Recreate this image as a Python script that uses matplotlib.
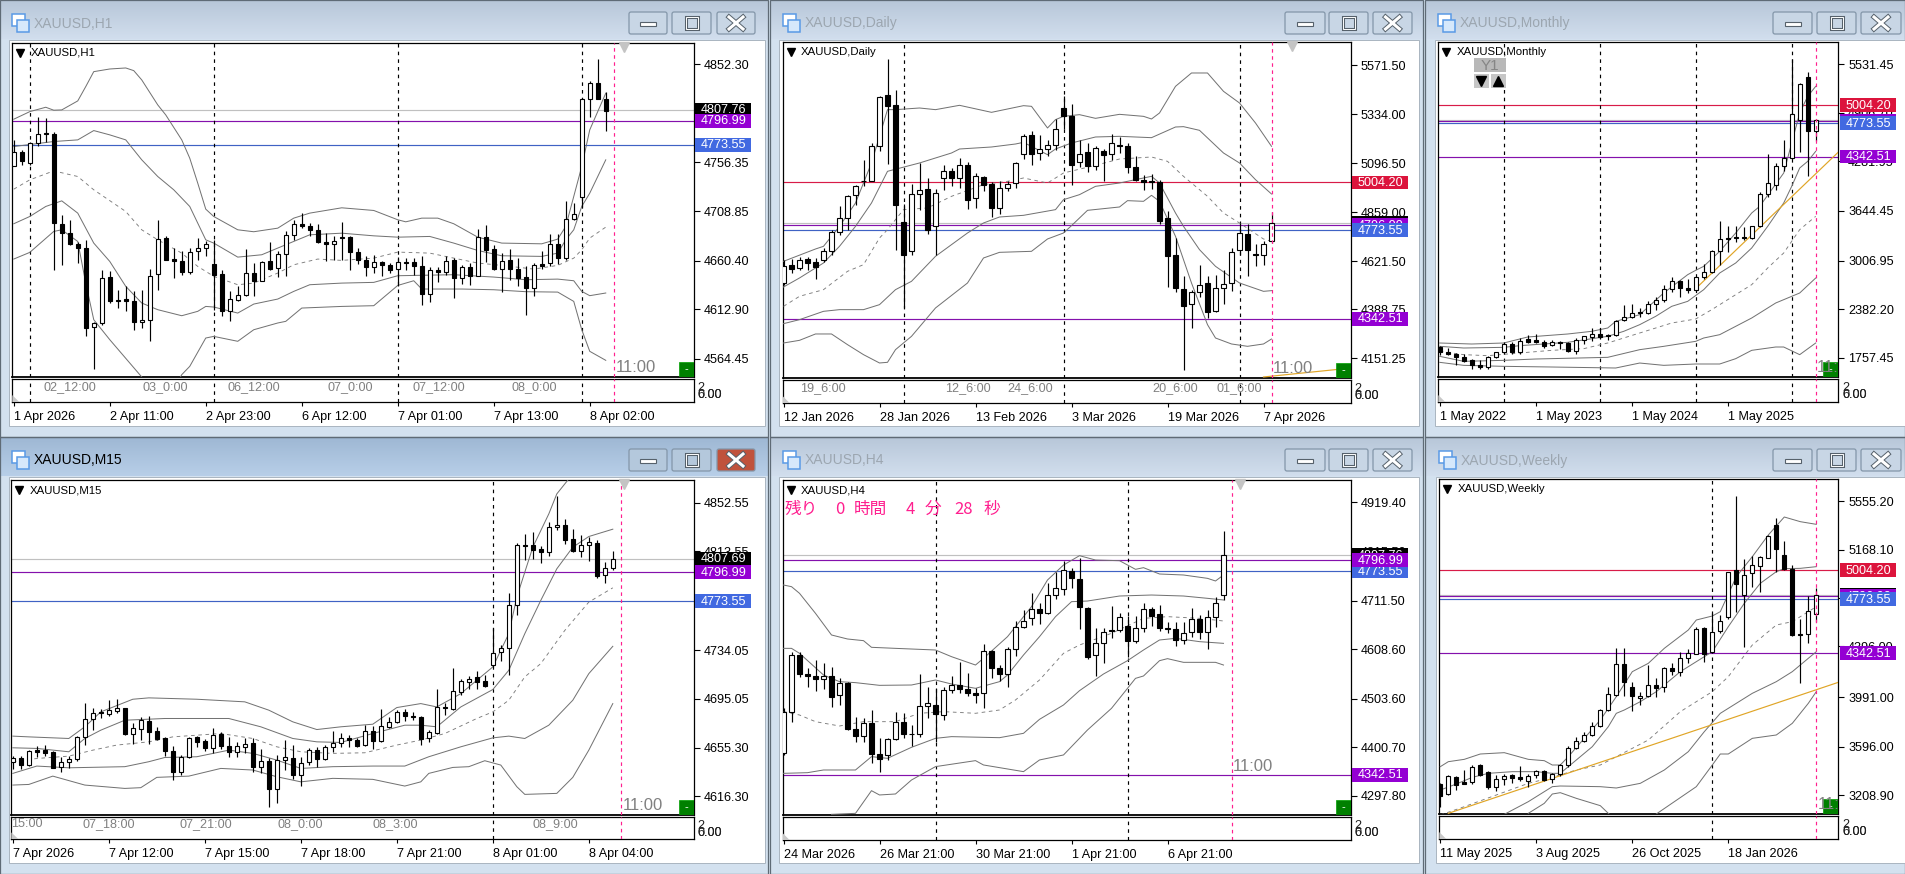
import numpy as np
import matplotlib
matplotlib.use("Agg")
import matplotlib.pyplot as plt
from matplotlib.patches import Rectangle, FancyBboxPatch, Polygon

plt.rcParams['font.family'] = ['Liberation Sans', 'DejaVu Sans']

W, H = 1905, 874

# levels shared by every chart
PRICE_NOW = 4807.76
LEVEL_RED = 5004.20
LEVEL_PURPLE = 4796.99
LEVEL_BLUE = 4773.55
LEVEL_LOW = 4342.51

# ---------- H1 : open, high, low, close ----------
h1_bars = [
 [4752.4,4778.4,4752.4,4766.3],[4766.3,4768.6,4754.0,4758.2],[4755.6,4776.8,4754.0,4775.8],[4775.8,4801.2,4772.5,4783.9],
 [4784.9,4799.5,4776.8,4783.9],[4783.9,4786.5,4650.8,4697.0],[4696.0,4705.1,4655.7,4687.2],[4687.2,4700.3,4675.9,4676.5],
 [4676.5,4678.1,4657.9,4672.3],[4672.6,4680.7,4586.3,4594.5],[4595.1,4600.0,4554.4,4599.4],[4599.4,4651.4,4597.7,4643.3],
 [4644.3,4649.8,4618.9,4620.5],[4621.8,4631.9,4614.0,4620.5],[4622.8,4635.8,4610.8,4620.5],[4621.2,4630.3,4592.8,4600.0],
 [4600.0,4631.3,4594.5,4602.3],[4602.3,4652.1,4581.5,4645.6],[4647.2,4699.6,4631.9,4681.4],[4682.4,4684.6,4660.6,4661.2],
 [4661.9,4672.6,4643.3,4659.6],[4660.2,4669.3,4646.6,4648.8],[4648.8,4672.6,4647.5,4668.7],[4669.3,4682.4,4661.2,4672.6],
 [4672.6,4679.1,4664.5,4676.5],[4657.0,4680.7,4612.4,4646.2],[4647.5,4651.4,4605.9,4610.8],[4610.8,4630.3,4601.0,4622.8],
 [4622.1,4635.2,4620.5,4626.7],[4626.7,4672.0,4625.4,4648.2],[4648.2,4658.0,4625.4,4640.0],[4640.7,4659.6,4640.0,4658.9],
 [4659.6,4678.5,4651.4,4652.4],[4653.0,4669.3,4644.3,4666.7],[4666.7,4688.9,4645.0,4685.3],[4685.3,4700.3,4680.7,4696.0],
 [4696.0,4706.8,4692.1,4693.8],[4694.4,4697.0,4684.6,4689.9],[4690.2,4696.4,4677.5,4678.1],[4678.5,4687.2,4659.6,4676.2],
 [4676.2,4684.6,4661.2,4680.0],[4683.3,4698.3,4661.2,4682.0],[4683.7,4684.6,4651.4,4668.4],[4668.7,4672.6,4657.3,4660.6],
 [4661.2,4664.5,4645.6,4653.7],[4654.0,4666.1,4648.2,4658.9],[4658.9,4659.6,4645.6,4655.7],[4656.3,4658.0,4648.2,4650.8],
 [4652.1,4663.8,4635.2,4658.6],[4658.9,4662.8,4651.4,4658.3],[4658.9,4662.8,4646.6,4654.7],[4654.7,4664.5,4616.6,4627.4],
 [4627.4,4654.0,4619.5,4650.8],[4651.1,4653.7,4639.7,4649.5],[4649.5,4664.5,4646.6,4659.9],[4661.2,4662.5,4623.5,4643.0],
 [4643.0,4656.3,4637.8,4654.0],[4654.0,4658.0,4636.8,4645.6],[4645.6,4691.1,4645.0,4683.3],[4683.7,4695.4,4658.9,4671.0],
 [4671.6,4675.9,4650.8,4652.1],[4652.1,4667.7,4629.3,4659.6],[4660.9,4671.6,4641.7,4652.1],[4652.1,4662.8,4635.2,4643.6],
 [4644.3,4654.7,4607.5,4633.2],[4633.2,4658.0,4625.4,4655.7],[4657.0,4669.3,4652.1,4655.4],[4657.6,4686.3,4654.7,4676.5],
 [4676.5,4686.3,4657.3,4662.5],[4662.5,4718.8,4660.6,4700.9],[4700.9,4716.5,4700.3,4705.5],[4722.4,4819.1,4712.6,4818.1],
 [4818.1,4836.0,4800.5,4833.7],[4833.7,4857.5,4818.1,4818.1],[4818.1,4824.9,4787.5,4807.0]]
h1_up2 = [(0,4798.6),(2,4806),(4,4810.3),(5,4807.4),(6,4807.7),(8,4816.5),(9,4830.5),(10,4845.1),(12,4847.7),(14,4848.7),(15,4846.1),(16,4837),(18,4812.6),(19,4802.8),(21,4778.4),(22,4760.5),(23,4736.1),(24,4710.7),(25,4703.5),(28,4690.5),(30,4688.6),(33,4692.1),(35,4701.9),(37,4706.8),(41,4712),(45,4709.4),(48,4700.3),(49,4698.3),(51,4701.9),(53,4701.9),(55,4696.4),(58,4683.3),(61,4677.5),(66,4676.8),(68,4681.4),(69,4693.8),(71,4752.4),(72,4788.2),(74,4824)]
h1_up1 = [(0,4771.9),(5,4776.8),(8,4778.4),(10,4787.5),(12,4783.3),(14,4778.4),(16,4758.9),(18,4742.6),(20,4729.6),(22,4713.3),(24,4680.7),(25,4677.5),(28,4663.8),(31,4666.1),(34,4675.9),(37,4685.6),(41,4687.2),(45,4684.6),(48,4683.3),(52,4684),(55,4677.5),(58,4670.3),(61,4665.1),(66,4664.5),(68,4667.7),(69,4680.7),(70,4690.5),(71,4713.3),(72,4726.3),(74,4758.9)]
h1_mid = [(0,4730.2),(2,4739.3),(5,4748.1),(8,4742.6),(10,4729.6),(14,4708.4),(16,4690.5),(18,4680.7),(21,4667.7),(23,4654.7),(25,4645),(28,4636.8),(30,4638.4),(33,4648.2),(35,4656.3),(38,4661.9),(41,4660.6),(45,4662.8),(48,4668.7),(52,4667.7),(56,4661.2),(58,4658),(61,4655.7),(65,4652.1),(68,4655.7),(70,4662.8),(71,4671),(72,4682.4),(74,4693.1)]
h1_low1 = [(0,4696.4),(2,4703.5),(4,4713.3),(6,4718.8),(8,4706.8),(10,4677.5),(12,4659.6),(14,4635.2),(16,4618.9),(18,4612.4),(21,4606.5),(23,4610.8),(24,4615.6),(25,4615),(28,4609.1),(30,4617.9),(33,4622.8),(35,4630.3),(37,4636.8),(41,4638.4),(45,4639.1),(48,4645.6),(55,4646.6),(60,4644.3),(64,4641.7),(68,4642.3),(70,4640.7),(71,4630.3),(72,4626.1),(74,4628.7)]
h1_low2 = [(0,4661.9),(2,4668.4),(5,4688.9),(6,4690.5),(8,4679.1),(9,4638.4),(10,4602.6),(12,4583.1),(16,4546.6),(18,4530),(20,4535),(21,4548.9),(22,4557),(24,4584.7),(25,4586.3),(28,4581.5),(30,4592.8),(33,4599.4),(34,4601),(36,4614),(41,4615.6),(45,4616.3),(48,4636.1),(50,4640.7),(51,4632.6),(56,4632.6),(60,4631.9),(64,4630),(68,4629.6),(70,4620.5),(71,4592.8),(72,4571.7),(74,4562.9)]
h1_ticks = [4852.30,4804.80,4756.35,4708.85,4660.40,4612.90,4564.45]
h1_dates = ["1 Apr 2026","2 Apr 11:00","2 Apr 23:00","6 Apr 12:00","7 Apr 01:00","7 Apr 13:00","8 Apr 02:00"]
h1_sub = [(3.7,"02_12:00"),(16.1,"03_0:00"),(26.7,"06_12:00"),(39.2,"07_0:00"),(49.8,"07_12:00"),(62.2,"08_0:00")]

# ---------- Daily ----------
d1_bars = [
 [4516.5,4629.6,4508.5,4597.3],[4605.4,4632.9,4565.0,4584.4],[4587.6,4642.6,4581.2,4626.4],[4632.9,4642.6,4577.9,4613.5],
 [4618.3,4637.7,4535.9,4592.5],[4626.4,4686.2,4618.3,4670.0],[4670.0,4775.0,4653.9,4763.7],[4763.7,4891.4,4750.8,4831.6],
 [4831.6,4944.7,4771.8,4938.2],[4941.4,4993.1,4896.2,4986.7],[5012.5,5114.3,4985.0,5009.3],[5012.5,5195.1,5009.3,5180.6],
 [5180.6,5424.5,5157.9,5418.0],[5429.3,5603.8,5094.9,5376.0],[5380.9,5453.6,4678.1,4893.0],[4812.2,4901.0,4395.4,4653.9],
 [4670.0,4996.4,4653.9,4947.9],[4947.9,5098.2,4872.0,4965.7],[4973.8,5025.5,4755.6,4775.0],[4791.2,4972.1,4653.9,4952.8],
 [5023.8,5090.0,4968.9,5059.4],[5059.4,5073.9,4985.0,5023.8],[5023.8,5122.4,4977.0,5086.8],[5088.4,5101.4,4876.8,4920.4],
 [4926.9,5049.7,4880.0,5035.1],[5031.9,5036.8,4964.0,4993.1],[4998.0,5004.5,4836.4,4880.0],[4878.4,5009.3,4852.6,4977.0],
 [4975.4,5009.3,4960.8,4996.4],[5000.0,5104.6,4977.0,5098.2],[5143.4,5240.3,5117.5,5230.6],[5233.9,5254.9,5090.0,5143.4],
 [5146.6,5235.5,5114.3,5166.0],[5164.4,5208.0,5130.5,5185.4],[5183.8,5311.4,5162.8,5263.0],[5364.7,5421.3,5263.0,5324.3],
 [5326.0,5385.7,4993.1,5086.8],[5101.4,5211.2,5078.8,5141.8],[5151.5,5195.1,5052.9,5082.0],[5083.6,5182.2,5062.6,5170.8],
 [5156.3,5166.0,5012.5,5135.3],[5141.8,5240.3,5114.3,5195.1],[5185.4,5224.2,5146.6,5179.0],[5182.2,5195.1,5049.7,5077.1],
 [5078.8,5133.7,5009.3,5015.8],[5015.8,5041.6,4965.7,5006.1],[5010.9,5046.5,4972.1,5006.1],[5006.1,5017.4,4804.1,4815.4],
 [4830.0,4867.1,4497.1,4645.8],[4652.2,4734.6,4474.5,4490.7],[4487.4,4548.9,4093.3,4403.4],[4414.7,4484.2,4298.4,4472.9],
 [4474.5,4605.4,4448.7,4505.2],[4516.5,4548.9,4346.9,4374.4],[4379.2,4557.0,4374.4,4492.3],[4490.7,4581.2,4416.4,4511.7],
 [4514.9,4686.2,4479.4,4666.8],[4674.9,4802.5,4653.9,4758.9],[4754.0,4802.5,4552.1,4674.9],[4657.0,4705.6,4597.3,4650.6],
 [4650.6,4718.5,4605.4,4705.6],[4718.5,4860.6,4710.4,4807.3]]
d1_up2 = [(0,4621.5),(4,4681.3),(5,4694.3),(7,4791.2),(9,4904.3),(11,5098.2),(13,5356.7),(14,5356.7),(17,5364.7),(19,5356.7),(22,5377.7),(26,5343.7),(30,5376),(31,5372.8),(33,5267.8),(34,5308.2),(35,5324.3),(37,5332.4),(39,5314.6),(42,5334),(45,5324.3),(46,5311.4),(47,5340.5),(49,5469.7),(51,5534.4),(53,5534.4),(55,5445.5),(57,5389),(59,5292),(61,5178.9)]
d1_up1 = [(0,4497.1),(2,4540.8),(5,4613.5),(7,4694.3),(9,4791.2),(11,4904.3),(13,5057.8),(17,5098.2),(21,5146.6),(22,5166),(26,5175.7),(29,5190.2),(30,5198.3),(33,5138.5),(34,5166),(36,5195.1),(39,5224.2),(42,5227.4),(46,5220.9),(49,5272.6),(50,5274.3),(52,5256.5),(55,5146.6),(57,5098.2),(59,5017.4),(61,4947.9)]
d1_mid = [(0,4403.4),(2,4451.9),(5,4484.2),(8,4573),(10,4605.4),(12,4734.6),(13,4775),(15,4872),(18,4880),(21,4936.6),(25,4993.1),(28,5009.3),(30,5025.5),(33,5001.2),(35,5049.7),(39,5086.8),(42,5117.5),(46,5127.2),(48,5106.2),(50,5033.5),(53,4936.6),(55,4855.8),(57,4807.3),(60,4729.8),(61,4718.5)]
d1_low1 = [(0,4319.4),(2,4338.8),(5,4379.2),(7,4387.3),(10,4387.3),(12,4411.5),(14,4484.2),(16,4524.6),(19,4645.8),(23,4758.9),(25,4807.3),(27,4836.4),(30,4844.5),(34,4872),(35,4920.4),(37,4944.7),(39,4985),(42,5001.2),(44,5017.4),(46,5033.5),(47,5001.2),(49,4855.8),(50,4791.2),(52,4678.1),(54,4597.3),(57,4516.5),(60,4476.1),(61,4479.4)]
d1_low2 = [(0,4225.7),(2,4238.6),(4,4269.4),(6,4269.4),(8,4217.7),(10,4169.2),(12,4128.8),(13,4132),(14,4193.4),(16,4258),(19,4395.4),(23,4516.5),(25,4637.7),(27,4665.1),(31,4670),(33,4729.8),(35,4758.9),(36,4794.4),(38,4868.7),(42,4884.9),(43,4915.6),(45,4912.4),(46,4941.4),(47,4912.4),(49,4742.7),(51,4516.5),(53,4314.6),(54,4249.9),(56,4220.9),(58,4209.6),(60,4220.9),(61,4245)]
d1_trend = [(60,4060.9),(71,4104.5)]
d1_ticks = [5571.50,5334.00,5096.50,4859.00,4621.50,4388.75,4151.25]
d1_dates = ["12 Jan 2026","28 Jan 2026","13 Feb 2026","3 Mar 2026","19 Mar 2026","7 Apr 2026"]
d1_sub = [(2.1,"19_6:00"),(20.2,"12_6:00"),(28.0,"24_6:00"),(46.1,"20_6:00"),(54.1,"01_6:00")]

# ---------- Monthly ----------
mn_bars = [
 [1898.6,1907.1,1796.0,1830.1],[1838.7,1885.7,1800.2,1808.7],[1808.7,1821.6,1671.8,1765.9],[1770.2,1804.4,1710.3,1718.9],
 [1727.4,1744.5,1616.2,1667.5],[1667.5,1736.0,1616.2,1641.8],[1641.8,1787.3,1616.2,1770.2],[1770.2,1838.7,1761.6,1830.1],
 [1830.1,1967.1,1804.4,1932.8],[1932.8,1958.5,1804.4,1830.1],[1830.1,2014.1,1813.0,1975.6],[2001.3,2056.9,1949.9,1967.1],
 [1988.4,2065.5,1949.9,1958.5],[1962.8,1992.7,1890.0,1915.7],[1924.3,1984.2,1907.1,1962.8],[1967.1,1975.6,1872.9,1949.9],
 [1954.2,1967.1,1838.7,1847.2],[1847.2,2009.8,1804.4,1984.2],[1984.2,2044.1,1932.8,2035.5],[2027.0,2146.8,1975.6,2065.5],
 [2065.5,2142.5,2001.3,2027.0],[2056.9,2065.5,1984.2,2035.5],[2052.6,2240.9,2044.1,2228.1],[2240.9,2442.0,2232.3,2283.7],
 [2283.7,2454.9,2275.1,2335.0],[2343.6,2394.9,2283.7,2335.0],[2330.8,2493.4,2317.9,2450.6],[2450.6,2540.4,2369.3,2497.6],
 [2497.6,2698.8,2472.0,2643.1],[2643.1,2797.2,2600.3,2745.8],[2745.8,2763.0,2536.2,2656.0],[2651.7,2771.5,2591.8,2626.0],
 [2626.0,2814.3,2617.5,2797.2],[2792.9,2964.0,2771.5,2861.4],[2861.4,3139.5,2848.5,3130.9],[3130.9,3511.8,2955.5,3285.0],
 [3293.6,3447.6,3113.8,3285.0],[3310.7,3456.1,3250.7,3293.6],[3310.7,3439.0,3267.9,3293.6],[3293.6,3456.1,3285.0,3447.6],
 [3447.6,3884.0,3439.0,3866.9],[3866.9,4380.4,3824.1,4003.9],[3978.2,4260.6,3918.3,4226.4],[4226.4,4560.1,4153.6,4329.0],
 [4324.8,5600.0,4316.2,4889.4],[4812.5,5287.4,4397.5,5274.6],[5364.5,5424.4,4089.4,4667.1],[4671.4,4825.4,4538.7,4812.5]]
mn_up2 = [(0,1949.9),(4,1937),(8,1949.9),(11,2027),(16,2065.5),(19,2099.7),(21,2142.5),(22,2228.1),(25,2313.6),(28,2592),(31,2827.3),(32,2882.9),(33,2934.1),(35,3126.7),(37,3362),(39,3618.7),(40,3704.3),(43,4132.2),(44,4517.3),(45,4902.4),(46,5116.4),(47,5244.8)]
mn_up1 = [(0,1907.1),(3,1885.7),(8,1894.2),(10,1915.7),(16,1958.5),(21,2035.5),(23,2099.7),(25,2185.3),(27,2292.3),(29,2420.6),(31,2484.8),(33,2634.6),(35,2848.5),(37,2976.9),(39,3169.4),(41,3447.6),(43,3747.1),(44,3961),(45,4196.4),(46,4281.9),(47,4410.3)]
mn_mid = [(0,1842.9),(3,1800.2),(6,1787.3),(10,1821.6),(14,1855.8),(18,1877.2),(21,1949.9),(25,2078.3),(29,2206.7),(32,2258),(34,2377.8),(36,2506),(39,2698.8),(41,2912.8),(43,3105.3),(45,3404.8),(47,3576)]
mn_low1 = [(0,1778.8),(3,1714.6),(8,1727.4),(12,1744.5),(21,1765.9),(25,1864.3),(28,1907.1),(32,1971.3),(33,2014.1),(35,2056.9),(39,2270.8),(42,2463.4),(45,2591.8),(47,2784.3)]
mn_low2 = [(0,1701.7),(3,1663.2),(8,1650.4),(14,1641.8),(22,1629),(25,1692.9),(28,1663.2),(32,1680.4),(35,1680.4),(37,1748.8),(39,1855.8),(42,1898.6),(43,1898.6),(45,1800.2),(47,1949.9)]
mn_trend = [(32.3,2677.4),(49.8,4397.5)]
mn_ticks = [5531.45,4906.70,4281.95,3644.45,3006.95,2382.20,1757.45]
mn_dates = ["1 May 2022","1 May 2023","1 May 2024","1 May 2025"]

# ---------- M15 ----------
m15_bars = [
 [4644.2,4648.7,4638.0,4646.8],[4647.3,4648.7,4638.0,4641.5],[4641.5,4654.0,4640.9,4652.7],[4653.5,4656.7,4648.2,4652.4],
 [4653.8,4657.6,4648.7,4651.6],[4652.2,4653.0,4638.8,4639.3],[4639.9,4647.6,4636.1,4643.9],[4643.6,4648.7,4638.8,4646.6],
 [4646.0,4664.8,4645.0,4664.2],[4663.7,4691.6,4657.3,4678.4],[4678.7,4687.8,4669.6,4683.3],[4684.1,4687.0,4679.0,4683.3],
 [4683.0,4693.7,4680.9,4685.9],[4685.4,4694.5,4683.5,4687.3],[4687.5,4687.8,4666.1,4666.7],[4666.9,4675.0,4658.3,4671.2],
 [4670.9,4680.3,4661.6,4677.6],[4676.8,4680.9,4658.3,4668.5],[4669.3,4672.3,4661.6,4662.1],[4662.9,4663.7,4648.7,4652.7],
 [4652.7,4656.7,4629.4,4635.6],[4635.6,4649.5,4633.2,4647.6],[4647.9,4663.7,4647.3,4662.9],[4664.0,4665.0,4656.2,4660.0],
 [4661.0,4662.1,4653.0,4654.9],[4654.9,4671.5,4651.4,4666.1],[4666.4,4668.3,4654.1,4656.7],[4656.7,4664.2,4647.6,4651.9],
 [4651.9,4660.2,4648.2,4656.5],[4656.2,4663.4,4651.4,4658.1],[4659.2,4662.9,4636.1,4639.6],[4639.9,4654.1,4635.3,4645.0],
 [4645.0,4646.8,4607.5,4621.9],[4621.9,4649.5,4610.7,4645.5],[4645.5,4661.6,4637.5,4647.9],[4647.1,4657.6,4630.2,4633.2],
 [4633.4,4648.2,4624.9,4642.8],[4643.9,4654.9,4641.5,4653.3],[4653.5,4656.2,4640.2,4646.3],[4646.3,4657.6,4645.5,4655.9],
 [4655.9,4669.0,4652.2,4659.2],[4659.2,4667.5,4656.2,4663.2],[4663.4,4665.6,4656.2,4661.6],[4661.8,4662.9,4656.2,4657.0],
 [4657.3,4673.6,4656.7,4669.0],[4669.0,4672.8,4654.1,4660.5],[4660.5,4686.8,4660.0,4672.8],[4672.3,4679.8,4671.7,4676.0],
 [4676.0,4685.7,4675.5,4684.1],[4684.3,4687.0,4677.1,4680.6],[4681.1,4684.3,4677.6,4680.0],[4680.3,4680.9,4657.3,4662.1],
 [4663.2,4669.6,4660.2,4668.0],[4667.7,4702.8,4666.9,4688.1],[4688.1,4691.6,4681.6,4687.3],[4686.8,4720.0,4686.2,4700.9],
 [4700.7,4711.1,4697.7,4709.0],[4708.7,4713.5,4703.1,4710.6],[4712.5,4717.0,4703.1,4708.2],[4709.0,4714.3,4704.4,4705.5],
 [4721.8,4752.1,4720.5,4732.0],[4732.3,4737.9,4725.3,4735.5],[4735.5,4779.9,4714.0,4770.0],[4770.0,4820.1,4762.0,4818.3],
 [4818.3,4827.6,4806.7,4818.0],[4818.3,4829.5,4807.6,4814.8],[4815.1,4817.5,4804.0,4813.4],[4813.4,4837.0,4810.2,4833.5],
 [4833.5,4858.4,4830.9,4835.1],[4835.1,4839.7,4819.1,4822.8],[4823.1,4831.7,4812.9,4814.0],[4813.7,4827.1,4808.9,4818.3],
 [4818.3,4825.5,4805.7,4820.7],[4819.9,4822.3,4792.3,4793.9],[4794.2,4804.6,4788.3,4800.3],[4800.3,4814.2,4798.7,4807.5]]
m15_up2 = [(0,4664.8),(2,4664.2),(7,4662.9),(9,4672.3),(11,4684.3),(15,4694.5),(17,4695.6),(23,4694.5),(29,4692.4),(32,4685.7),(35,4676.3),(38,4670.1),(41,4672.3),(45,4674.4),(48,4687.8),(51,4691),(53,4688.3),(56,4699),(60,4720.5),(62,4747.3),(63,4776.7),(65,4816.9),(67,4843.7),(68,4859.8),(70,4875.9),(72,4889),(75,4900)]
m15_up1 = [(0,4655.4),(3,4654.9),(7,4652.2),(9,4662.9),(11,4669.6),(14,4677.6),(19,4679),(27,4679),(31,4672.3),(35,4662.9),(38,4660.2),(41,4659.7),(45,4666.9),(49,4673.6),(51,4673.6),(53,4672.3),(56,4688.3),(60,4702.3),(62,4717.8),(64,4747.3),(66,4774.1),(68,4799.5),(70,4816.9),(72,4825.5),(75,4831.4)]
m15_mid = [(0,4644.2),(3,4646.8),(7,4648.7),(10,4653.5),(13,4657.6),(17,4660.2),(20,4664.2),(26,4666.9),(30,4662.9),(33,4656.2),(36,4652.2),(40,4650.9),(44,4651.4),(48,4657.6),(51,4661.6),(54,4666.9),(58,4679),(60,4684.3),(62,4693.7),(64,4712.5),(66,4723.2),(69,4749.9),(72,4772.7),(75,4784.2)]
m15_low1 = [(0,4634.8),(3,4640.7),(7,4639.3),(14,4640.2),(17,4644.2),(19,4647.6),(23,4648.2),(27,4653.5),(30,4650.9),(33,4645.5),(36,4638.8),(40,4640.2),(45,4640.7),(49,4640.7),(52,4648.2),(56,4656.2),(60,4663.4),(62,4664.8),(64,4662.9),(67,4673.6),(70,4693.7),(72,4715.1),(75,4737.1)]
m15_low2 = [(0,4625.4),(2,4625.9),(5,4632.6),(9,4625.4),(14,4622.7),(16,4623.3),(18,4631.6),(22,4632.6),(26,4638.8),(30,4637.5),(33,4632.1),(36,4628),(40,4630.8),(45,4630),(49,4624.6),(51,4628),(52,4634.8),(55,4639.6),(57,4640.2),(59,4645),(61,4641.5),(63,4624.1),(64,4617.9),(68,4618.7),(70,4631.6),(72,4653.5),(75,4691)]
m15_ticks = [4852.55,4813.55,4773.55,4734.05,4695.05,4655.30,4616.30]
m15_dates = ["7 Apr 2026","7 Apr 12:00","7 Apr 15:00","7 Apr 18:00","7 Apr 21:00","8 Apr 01:00","8 Apr 04:00"]
m15_sub = [(-0.2,"15:00"),(8.7,"07_18:00"),(20.8,"07_21:00"),(33.1,"08_0:00"),(45.0,"08_3:00"),(65.0,"08_9:00")]

# ---------- H4 ----------
h4_bars = [
 [4388.1,4483.3,4384.6,4476.3],[4476.3,4603.3,4455.1,4596.2],[4596.2,4603.3,4549.0,4555.3],[4556.0,4569.4,4527.8,4551.0],
 [4552.5,4585.6,4520.7,4544.7],[4545.4,4580.0,4524.3,4551.8],[4551.8,4570.1,4486.8,4506.6],[4510.9,4546.8,4490.4,4537.7],
 [4537.7,4539.8,4437.5,4438.9],[4439.6,4465.7,4412.8,4424.8],[4424.8,4462.2,4412.8,4453.0],[4453.0,4479.8,4366.9,4385.9],
 [4386.6,4421.2,4349.3,4375.4],[4384.6,4421.2,4374.0,4419.1],[4418.4,4476.3,4416.3,4454.4],[4454.4,4474.2,4419.8,4429.0],
 [4429.7,4448.0,4403.6,4428.3],[4429.0,4556.0,4423.4,4488.3],[4488.3,4529.2,4462.2,4495.3],[4491.1,4525.7,4412.8,4470.6],
 [4468.5,4529.2,4458.6,4522.1],[4522.1,4552.5,4515.1,4532.7],[4532.7,4582.1,4515.1,4524.3],[4524.3,4558.8,4509.4,4515.8],
 [4516.5,4525.7,4493.9,4511.6],[4515.1,4619.5,4483.3,4604.7],[4604.7,4606.8,4546.8,4568.0],[4569.4,4575.0,4541.9,4556.0],
 [4556.0,4613.9,4529.2,4608.9],[4608.9,4668.9,4594.1,4655.5],[4654.8,4691.5,4652.7,4668.2],[4673.8,4726.8,4659.7,4693.6],
 [4694.3,4705.6,4661.9,4684.4],[4684.4,4749.3,4682.3,4723.2],[4723.2,4772.6,4714.1,4738.1],[4735.9,4795.9,4723.2,4776.2],
 [4774.8,4781.1,4737.4,4758.5],[4757.8,4800.9,4650.6,4697.1],[4695.7,4697.1,4587.1,4592.7],[4596.2,4652.7,4552.5,4621.6],
 [4621.6,4652.7,4580.0,4644.2],[4649.2,4700.6,4631.5,4646.3],[4648.4,4684.4,4645.6,4676.7],[4658.3,4679.5,4592.7,4625.9],
 [4625.9,4678.8,4622.4,4653.4],[4653.4,4705.6,4644.2,4693.6],[4693.6,4698.6,4658.3,4679.5],[4683.0,4702.1,4647.0,4652.7],
 [4653.4,4666.8,4642.1,4650.6],[4651.3,4666.8,4616.0,4627.3],[4627.3,4666.8,4618.8,4642.8],[4644.2,4696.4,4635.0,4672.4],
 [4673.1,4680.9,4629.4,4644.2],[4644.9,4691.5,4608.2,4676.7],[4676.0,4719.7,4656.2,4707.0],[4723.2,4859.4,4712.6,4807.9]]
h4_up2 = [(0,4744.4),(1,4740.9),(2,4726.8),(4,4684.4),(6,4638.6),(8,4630.1),(10,4626.6),(11,4612.5),(14,4610.3),(19,4606.8),(21,4592.7),(24,4575),(25,4589.2),(28,4635),(31,4698.5),(33,4755),(35,4786.7),(37,4806.5),(39,4797.3),(42,4795.9),(44,4777.6),(45,4781.1),(47,4767.7),(50,4765.6),(53,4758.5),(54,4752.9),(55,4765.6)]
h4_up1 = [(0,4610.3),(1,4610.3),(2,4599.8),(5,4553.9),(7,4539.8),(9,4537.7),(12,4532),(16,4532.7),(19,4543.3),(21,4534.8),(24,4525.7),(27,4539.8),(28,4553.9),(30,4596.2),(32,4635),(34,4677.4),(36,4709.1),(38,4710.5),(42,4721.1),(46,4723.2),(50,4721.1),(53,4716.2),(55,4712.7)]
h4_mid = [(0,4476.3),(2,4469.2),(4,4455.1),(7,4445.9),(10,4455.1),(14,4455.1),(17,4472.8),(20,4476.3),(24,4472.8),(27,4479.8),(29,4501),(32,4543.3),(35,4599.8),(37,4617.4),(41,4642.1),(45,4673.8),(48,4677.4),(52,4673.8),(55,4668.2)]
h4_low1 = [(0,4345.7),(3,4347.1),(5,4352.8),(9,4352.8),(11,4381),(13,4377.5),(16,4400.8),(19,4419.8),(21,4423.4),(27,4421.2),(30,4430.4),(32,4460),(35,4490.4),(37,4520.7),(40,4556),(43,4584.2),(45,4606.8),(47,4628),(49,4631.5),(52,4624.5),(55,4620.9)]
h4_low2 = [(6,4258.9),(9,4261),(11,4309),(12,4299.9),(14,4302),(16,4331.6),(19,4359.9),(24,4372.6),(25,4363.4),(30,4349.3),(32,4374),(35,4384.6),(38,4437.5),(41,4483.3),(44,4546.8),(45,4551.8),(47,4584.2),(48,4588.5),(50,4580.7),(54,4580.7),(55,4575)]
h4_ticks = [4919.40,4815.50,4711.50,4608.60,4503.60,4400.70,4297.80]
h4_dates = ["24 Mar 2026","26 Mar 21:00","30 Mar 21:00","1 Apr 21:00","6 Apr 21:00"]

# ---------- Weekly ----------
w1_bars = [
 [3296.9,3302.2,3116.0,3201.0],[3214.4,3366.0,3206.4,3360.7],[3355.4,3360.7,3249.0,3286.2],[3312.8,3408.6,3296.9,3299.5],
 [3312.8,3448.5,3294.2,3435.2],[3451.2,3456.5,3360.7,3366.0],[3392.6,3400.6,3254.3,3275.6],[3270.3,3368.7,3243.7,3336.8],
 [3334.1,3376.7,3286.2,3360.7],[3368.7,3376.7,3307.5,3347.4],[3352.7,3440.5,3323.5,3334.1],[3318.2,3376.7,3270.3,3360.7],
 [3366.0,3408.6,3342.1,3400.6],[3403.3,3408.6,3323.5,3331.5],[3334.1,3387.3,3307.5,3374.0],[3374.0,3456.5,3360.7,3448.5],
 [3445.8,3600.1,3435.2,3584.2],[3581.5,3669.3,3573.5,3640.0],[3642.7,3711.8,3632.0,3688.0],[3685.2,3791.6,3679.9,3759.7],
 [3759.7,3898.0,3754.4,3887.4],[3884.7,4068.3,3879.4,4015.0],[4004.4,4384.8,3999.1,4254.5],[4254.5,4384.8,3999.1,4108.2],
 [4070.9,4113.5,3882.1,3996.5],[3980.5,4033.7,3924.6,3999.1],[3996.5,4246.5,3988.5,4086.9],[4086.9,4140.1,3993.8,4060.3],
 [4068.3,4233.2,4033.7,4225.2],[4222.6,4265.1,4166.7,4195.9],[4188.0,4352.9,4158.7,4299.7],[4299.7,4376.8,4265.1,4339.6],
 [4336.9,4547.1,4334.3,4533.8],[4541.8,4552.4,4273.1,4334.3],[4352.9,4658.8,4344.9,4507.2],[4515.2,4645.5,4504.5,4597.6],
 [4626.9,4991.3,4610.9,4988.6],[5004.6,5597.8,4672.1,4890.2],[4805.1,5092.4,4392.8,4964.7],[4980.7,5116.3,4871.6,5044.5],
 [5033.9,5116.3,4831.7,5108.3],[5100.4,5283.9,5097.7,5275.9],[5366.4,5422.2,4991.3,5169.5],[5127.0,5238.7,5004.6,5015.2],
 [5012.6,5044.5,4477.9,4488.6],[4493.9,4610.9,4100.2,4483.2],[4493.9,4797.1,4419.4,4677.4],[4653.5,4858.3,4592.3,4805.1]]
w1_up2 = [(0,3435.2),(1,3475),(3,3493.7),(5,3536.3),(8,3546.9),(11,3493.7),(13,3483),(14,3448.5),(15,3448.5),(16,3515),(18,3661.3),(20,3807.6),(22,3993.8),(24,4193.3),(26,4259.8),(28,4379.5),(31,4525.8),(32,4605.6),(34,4637.5),(35,4672.1),(37,4951.4),(39,5111),(41,5283.9),(43,5427.5),(45,5390.3),(47,5369)]
w1_up1 = [(0,3249),(2,3296.9),(4,3350),(6,3382),(9,3395.3),(12,3395.3),(14,3382),(15,3382),(17,3488.4),(19,3594.8),(21,3754.4),(22,3860.8),(23,3887.4),(25,3953.9),(27,4033.7),(30,4193.3),(32,4273.1),(34,4352.9),(36,4552.4),(38,4738.6),(40,4898.2),(42,4991.3),(43,5015.2),(45,5017.9),(47,5031.2)]
w1_mid = [(0,3049.5),(3,3116),(7,3209.1),(11,3302.2),(14,3350),(17,3408.6),(20,3448.5),(22,3515),(26,3648),(30,3874),(34,4033.7),(36,4153.4),(39,4406.1),(42,4565.7),(44,4592.3),(46,4672.1),(47,4712)]
w1_low1 = [(8,3054.8),(11,3155.9),(14,3275.6),(15,3280.9),(20,3275.6),(22,3265),(25,3302.2),(28,3408.6),(31,3554.9),(33,3714.5),(35,3860.8),(39,4020.4),(42,4113.5),(44,4193.3),(46,4299.7),(47,4352.9)]
w1_low2 = [(11,3062.8),(13,3142.6),(14,3217),(15,3227.7),(17,3182.5),(20,3124),(21,3062.8),(22,3000),(26,3000),(27,3057.5),(32,3275.6),(34,3448.5),(35,3536.3),(36,3536.3),(39,3661.3),(42,3688),(44,3781),(46,3940.6),(47,4033.7)]
w1_trend = [(1,3062.8),(49.75,4108.2)]
w1_ticks = [5555.20,5168.10,4781.00,4396.00,3991.00,3596.00,3208.90]
w1_dates = ["11 May 2025","3 Aug 2025","26 Oct 2025","18 Jan 2026"]

BAND = '#727272'
PINK = '#ff1f8f'
PURPLE = '#9400d3'
BLUE = '#4169e1'
RED = '#dc143c'
LINE_COLORS = {PURPLE: '#8410ac', BLUE: '#3f62c4', RED: '#d81c48'}

fig = plt.figure(figsize=(W / 100, H / 100), dpi=100, facecolor='#d3e1ef')

bg = fig.add_axes([0, 0, 1, 1], zorder=0)
bg.set_axis_off()
over = fig.add_axes([0, 0, 1, 1], zorder=10)
over.set_axis_off()
over.patch.set_alpha(0)


def draw_window(x0, y0, x1, title, active, client, buttons, icon_x):
    y1 = y0 + 437
    top = np.array([0.62, 0.72, 0.83]) if active else np.array([0.72, 0.78, 0.85])
    low = np.array([0.72, 0.81, 0.91]) if active else np.array([0.82, 0.87, 0.93])
    grad = np.linspace(top, low, 40).reshape(40, 1, 3)
    bg.imshow(grad, extent=(x0, x1, y0 + 39, y0), aspect='auto', zorder=1)
    bg.add_patch(Rectangle((x0, y0 + 39), x1 - x0, 398, fc='#d3e1ef', ec='none', zorder=1))
    bg.add_patch(Rectangle((x0, y0), x1 - x0, y1 - y0, fc='none', ec='#5f6b76', lw=0.9, zorder=2))
    bg.add_patch(Rectangle((client[0], y0 + 40), client[1] - client[0], 386, fc='white', ec='#aab5c0', lw=0.7, zorder=2))
    # icon
    bg.add_patch(Rectangle((icon_x + 1, y0 + 14), 13, 12, fc='white', ec='#5a9ae6', lw=1.1, zorder=3))
    bg.add_patch(Rectangle((icon_x + 6, y0 + 20), 12, 12, fc='#d6e8fb', ec='#5a9ae6', lw=1.1, zorder=3))
    bg.text(icon_x + 23, y0 + 23.5, title, fontsize=10, va='center', ha='left',
            color='black' if active else '#9ca6b0', zorder=4)
    for k, (bx0, bx1) in enumerate(buttons):
        face = '#c0523c' if active and k == 2 else ('#b4c8dc' if active else '#c8d6e5')
        bg.add_patch(FancyBboxPatch((bx0 + 1, y0 + 12), bx1 - bx0 - 2, 22, boxstyle='round,pad=0,rounding_size=2',
                                    fc=face, ec='#8396a9', lw=0.9, zorder=3))
        cx = (bx0 + bx1) / 2
        cy = y0 + 23
        if k == 0:
            bg.add_patch(Rectangle((cx - 8, cy - 1), 16, 4, fc='white', ec='#56616b', lw=0.8, zorder=4))
        elif k == 1:
            bg.add_patch(Rectangle((cx - 6, cy - 6), 12, 12, fc='none', ec='#56616b', lw=2.2, zorder=4))
            bg.add_patch(Rectangle((cx - 6, cy - 6), 12, 12, fc='none', ec='white', lw=0.7, zorder=4))
        else:
            for sgn in (1, -1):
                bg.plot([cx - 7, cx + 7], [cy - 6 * sgn, cy + 6 * sgn], color='#56616b', lw=3.6, zorder=4)
            for sgn in (1, -1):
                bg.plot([cx - 7, cx + 7], [cy - 6 * sgn, cy + 6 * sgn], color='white', lw=2.2, zorder=4)


def draw_chart(bars, bands, ticks, dates, box, ylim, x0, step_ticks, vlines, pink, label,
               levels, subs=(), trend=None, shift=None, clock_y=None):
    L, T, R, B, SB = box
    ax = fig.add_axes([L / W, 1 - B / H, (R - L) / W, (B - T) / H], zorder=2)
    sub = fig.add_axes([L / W, 1 - SB / H, (R - L) / W, (SB - B - 2) / H], zorder=2)
    xlim = ((L - x0) / 8, (R - x0) / 8)

    ax.axhline(PRICE_NOW, color='#c0c0c0', lw=0.85, zorder=1)
    for price, col, _ in levels:
        if col != 'black':
            ax.axhline(price, color=LINE_COLORS[col], lw=0.85, zorder=1)

    for a in (ax, sub):
        for v in vlines:
            a.axvline(v, color='black', lw=0.85, ls=(0, (3, 3.5)), zorder=2)
        a.axvline(pink, color=PINK, lw=0.85, ls=(0, (3, 3)), zorder=6)

    for k, band in enumerate(bands):
        pts = np.array(band)
        if k == 2:
            ax.plot(pts[:, 0], pts[:, 1], color='#7c7c7c', lw=0.65, ls=(0, (4, 4)), zorder=3)
        else:
            ax.plot(pts[:, 0], pts[:, 1], color=BAND, lw=0.72, zorder=3)
    if trend is not None:
        pts = np.array(trend)
        ax.plot(pts[:, 0], pts[:, 1], color='#e0a526', lw=0.85, zorder=3)

    data = np.array(bars)
    idx = np.arange(len(data))
    o, h, l, c = data.T
    ax.vlines(idx, l, h, color='black', lw=0.85, zorder=4)
    ax.bar(idx, np.abs(c - o), bottom=np.minimum(o, c), width=0.52,
           color=['white' if cc >= oo else 'black' for oo, cc in zip(o, c)],
           edgecolor='black', linewidth=0.8, zorder=5)

    ax.set_xlim(xlim)
    ax.set_ylim(ylim)
    sub.set_xlim(xlim)
    sub.set_ylim(0, 1)

    ax.set_xticks([])
    ax.yaxis.tick_right()
    ax.set_yticks(ticks, ['%.2f' % t for t in ticks])
    ax.tick_params(axis='y', length=4, width=0.8, pad=3, labelsize=9.1)
    for s in ax.spines.values():
        s.set_linewidth(0.9)
    ax.spines['bottom'].set_linewidth(1.3)

    sub.set_yticks([])
    sub.set_xticks([step_ticks * k for k in range(len(dates))], dates, ha='left')
    sub.tick_params(axis='x', length=3, width=0.8, pad=3.5, labelsize=9.1)
    for s in sub.spines.values():
        s.set_linewidth(0.9)
    for xs, txt in subs:
        sub.text(xs, 0.66, txt, fontsize=9.1, color='#808080', ha='left', va='center', clip_on=True)
    sub.add_patch(Polygon([(0, 0), (7 / (R - L), 0), (0, 0.3)], transform=sub.transAxes, fc='#c8c8c8', ec='none', zorder=5))

    # chart caption
    ax.plot([(8 / (R - L))], [1 - 10 / (B - T)], marker='v', ms=5.2, color='black', transform=ax.transAxes, clip_on=False, zorder=7)
    ax.text(18 / (R - L), 1 - 10 / (B - T), label, transform=ax.transAxes, fontsize=8.2, va='center', ha='left', zorder=7)

    # clock text and the little green button
    pink_px = x0 + pink * 8
    ax.add_patch(Rectangle((1 - 15 / (R - L), 0), 15 / (R - L), 15 / (B - T), transform=ax.transAxes, fc='#008000', ec='#00a000', lw=0.5, zorder=7))
    ax.text(1 - 7.5 / (R - L), 7.5 / (B - T), '-', transform=ax.transAxes, color='white', fontsize=8, ha='center', va='center', zorder=8)
    cy = 9.5 / (B - T) if clock_y is None else clock_y
    ax.text((pink_px + 1.5 - L) / (R - L), cy, '11:00', transform=ax.transAxes, color='#808080', fontsize=12,
            ha='left', va='center', zorder=8, clip_on=True)

    if shift is not None:
        over.plot([x0 + shift * 8], [T + 4], marker='v', ms=7, color='#c4c4c4', zorder=3)

    # sub window right scale
    over.text(R + 4, B + 11, '2', fontsize=9.1, va='center', ha='left', color='#222222')
    over.text(R + 4, B + 18, '6.00', fontsize=9.1, va='center', ha='left', color='#222222')
    over.text(R + 4, B + 18, '0.00', fontsize=9.1, va='center', ha='left', color='#222222')

    # price boxes, later ones lie over earlier ones
    for n, (price, col, txt) in enumerate(levels):
        ypix = H - ax.transData.transform((0, price))[1]
        over.add_patch(Rectangle((R + 1.5, ypix - 6.8), 56, 13.6, fc=col, ec='none', zorder=4 + 2 * n))
        over.text(R + 7, ypix + 0.6, txt, color='white', fontsize=9.1, va='center', ha='left', zorder=5 + 2 * n)
    return ax


draw_window(0, 0, 768, 'XAUUSD,H1', False, (9, 765), [(628, 668), (671, 712), (716, 756)], 11)
draw_window(770, 0, 1423, 'XAUUSD,Daily', False, (779, 1419), [(1284, 1326), (1328, 1369), (1372, 1413)], 782)
draw_window(1425, 0, 1905, 'XAUUSD,Monthly', False, (1435, 1905), [(1772, 1813), (1816, 1857), (1860, 1902)], 1437)
draw_window(0, 437, 768, 'XAUUSD,M15', True, (9, 765), [(628, 668), (671, 712), (716, 756)], 11)
draw_window(770, 437, 1423, 'XAUUSD,H4', False, (779, 1419), [(1284, 1326), (1328, 1369), (1372, 1413)], 782)
draw_window(1425, 437, 1905, 'XAUUSD,Weekly', False, (1436, 1905), [(1772, 1813), (1816, 1857), (1860, 1902)], 1438)

lv_now = (PRICE_NOW, 'black', '4807.76')
lv_pur = (LEVEL_PURPLE, PURPLE, '4796.99')
lv_blu = (LEVEL_BLUE, BLUE, '4773.55')
lv_red = (LEVEL_RED, RED, '5004.20')
lv_low = (LEVEL_LOW, PURPLE, '4342.51')

draw_chart(h1_bars, [h1_up2, h1_up1, h1_mid, h1_low1, h1_low2], h1_ticks, h1_dates,
           (12.3, 42.7, 693.5, 377, 402), (4546.6, 4873.4), 13.75, 12, [2, 25, 48, 71], 75,
           'XAUUSD,H1', [lv_now, lv_pur, lv_blu], subs=h1_sub, shift=76.3)
draw_chart(d1_bars, [d1_up2, d1_up1, d1_mid, d1_low1, d1_low2], d1_ticks, d1_dates,
           (782.6, 42, 1350.8, 378, 403), (4056.0, 5684.6), 783.5, 12, [15, 35, 57], 61,
           'XAUUSD,Daily', [lv_now, lv_pur, lv_blu, lv_red, lv_low], subs=d1_sub, trend=d1_trend, shift=63.6)
draw_chart(mn_bars, [mn_up2, mn_up1, mn_mid, mn_low1, mn_low2], mn_ticks, mn_dates,
           (1438.3, 42, 1838.3, 377, 402), (1513.5, 5813.9), 1439.7, 12, [8, 20, 32, 44], 47,
           'XAUUSD,Monthly', [lv_now, lv_pur, lv_blu, lv_red, lv_low], trend=mn_trend)
draw_chart(m15_bars, [m15_up2, m15_up1, m15_mid, m15_low1, m15_low2], m15_ticks, m15_dates,
           (11.3, 480, 693.5, 815, 839), (4601.3, 4871.0), 12.8, 12, [60], 76,
           'XAUUSD,M15', [(4807.69, 'black', '4807.69'), lv_pur, lv_blu], subs=m15_sub, shift=76.4)
draw_chart(h4_bars, [h4_up2, h4_up1, h4_mid, h4_low1, h4_low2], h4_ticks, h4_dates,
           (782.6, 480, 1350.8, 815, 840), (4257.5, 4966.7), 783.5, 12, [19, 43], 56,
           'XAUUSD,H4', [lv_now, lv_blu, lv_pur, lv_low], shift=57.1, clock_y=0.145)
draw_chart(w1_bars, [w1_up2, w1_up1, w1_mid, w1_low1, w1_low2], w1_ticks, w1_dates,
           (1439.3, 479, 1838.3, 814, 839), (3057.5, 5730.8), 1440.3, 12, [34], 47,
           'XAUUSD,Weekly', [lv_now, lv_pur, lv_blu, lv_red, lv_low], trend=w1_trend)

# countdown text of the H4 chart
clock_words = ['残り', '0', '時間', '4', '分', '28', '秒']
clock_left = [784.7, 835, 854, 905.5, 924.5, 954, 983.8]
for word, left in zip(clock_words, clock_left):
    over.text(left, 509, word, color=PINK, fontsize=12, va='center', ha='left',
              family=['Noto Sans CJK JP', 'DejaVu Sans'], zorder=5)

# period buttons of the Monthly chart
over.add_patch(Rectangle((1474, 58.3), 31.7, 14, fc='#b8b8b8', ec='none', zorder=3))
over.text(1489.8, 65.5, 'Y1', color='#858585', fontsize=11, ha='center', va='center', zorder=4)
for bx, mk in ((1474, 'v'), (1491, '^')):
    over.add_patch(Rectangle((bx, 73.5), 14.7, 14, fc='#c6c6c6', ec='none', zorder=3))
    over.plot([bx + 7.3], [80.8], marker=mk, ms=7.5, color='black', zorder=4)

bg.set_xlim(0, W)
bg.set_ylim(H, 0)
over.set_xlim(0, W)
over.set_ylim(H, 0)

fig.savefig('out.png', dpi=100)
